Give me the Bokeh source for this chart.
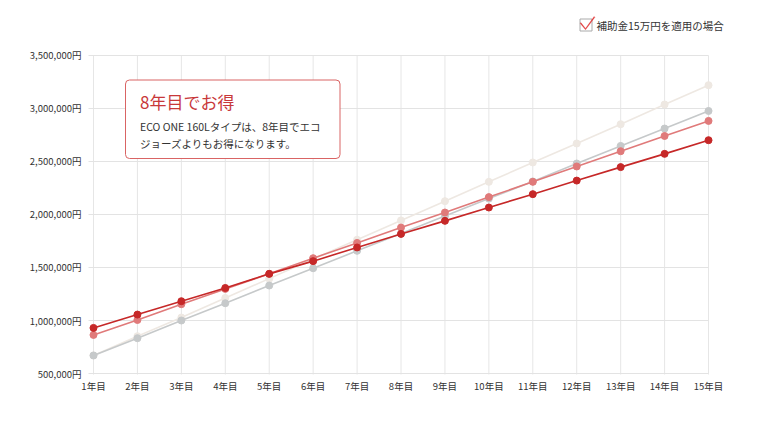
from bokeh.plotting import figure
from bokeh.models import Range1d, FixedTicker, BoxAnnotation, Label, PolyAnnotation
from bokeh.embed import file_html
from bokeh.resources import INLINE

# ---- data ----
years = list(range(1, 16))
x_labels = [f"{y}年目" for y in years]
y_ticks = [500000, 1000000, 1500000, 2000000, 2500000, 3000000, 3500000]
y_labels = ["500,000円", "1,000,000円", "1,500,000円", "2,000,000円",
            "2,500,000円", "3,000,000円", "3,500,000円"]

series_beige = [670000, 852000, 1028000, 1213000, 1395000, 1580000, 1762000, 1944000,
                2126000, 2308000, 2491000, 2670000, 2852000, 3038000, 3220000]
series_gray = [670000, 833000, 1000000, 1163000, 1330000, 1493000, 1657000, 1820000,
               1985000, 2150000, 2312000, 2481000, 2647000, 2811000, 2977000]
series_light = [864000, 1005000, 1154000, 1298000, 1440000, 1588000, 1732000, 1877000,
                2019000, 2164000, 2308000, 2453000, 2597000, 2741000, 2883000]
series_dark = [930000, 1056000, 1182000, 1307000, 1440000, 1560000, 1689000, 1817000,
               1940000, 2066000, 2192000, 2320000, 2447000, 2572000, 2701000]

legend_text = "補助金15万円を適用の場合"
box_title = "8年目でお得"
box_lines = ["ECO ONE 160Lタイプは、8年目でエコ", "ジョーズよりもお得になります。"]

FONT = "Noto Sans CJK JP"
PX_X = 43.93     # px per year
PX_Y = 9433.96   # yen per px

# helpers to place annotations (page px -> data)
def xd(px):
    return 1 + (px - 93) / PX_X

def yd(py):
    return 500000 + (373 - py) * PX_Y

# ---- figure ----
p = figure(width=752, height=420, output_backend="svg", toolbar_location=None,
           x_range=Range1d(xd(86), xd(736)), y_range=Range1d(yd(374), yd(8)),
           min_border_left=86, min_border_right=16, min_border_top=8, min_border_bottom=46)
p.outline_line_color = None
p.background_fill_color = "white"

# axes
for ax in (p.xaxis, p.yaxis):
    ax.axis_line_color = None
    ax.major_tick_line_color = None
    ax.major_tick_out = 0
    ax.major_tick_in = 0
    ax.minor_tick_line_color = None
    ax.major_label_text_font = FONT
    ax.major_label_text_font_size = "9.5px"
    ax.major_label_text_color = "#333333"

p.xaxis.ticker = FixedTicker(ticks=years)
p.xaxis.major_label_overrides = {y: l for y, l in zip(years, x_labels)}
p.xaxis.major_label_standoff = 4

p.yaxis.ticker = FixedTicker(ticks=y_ticks)
p.yaxis.major_label_overrides = {t: l for t, l in zip(y_ticks, y_labels)}
p.yaxis.major_label_standoff = 5

# grid (drawn only across the data extent, with 5px tick stubs outside)
p.xgrid.grid_line_color = None
p.ygrid.grid_line_color = None
tick_x = 5 / PX_X
tick_y = 5 * PX_Y
p.segment(x0=years, x1=years, y0=[y_ticks[0] - tick_y] * len(years),
          y1=[y_ticks[-1]] * len(years), line_color="#e6e6e6", line_width=1)
p.segment(x0=[years[0] - tick_x] * len(y_ticks), x1=[years[-1]] * len(y_ticks),
          y0=y_ticks, y1=y_ticks, line_color="#e3e3e3", line_width=1)

# series
for data, col in [(series_beige, "#eee8e2"), (series_gray, "#c6c9ca"),
                  (series_light, "#e07a7a"), (series_dark, "#c62828")]:
    p.line(years, data, line_color=col, line_width=1.6)
    p.scatter(years, data, size=7, fill_color=col, line_color=col)

# callout box
p.add_layout(BoxAnnotation(left=xd(125), right=xd(339.5), top=yd(79.5), bottom=yd(158),
                           fill_color="white", fill_alpha=1.0, line_color="#d96464",
                           line_alpha=1.0, line_width=1, border_radius=4))
p.add_layout(Label(x=xd(139.5), y=yd(101), text=box_title, text_font=FONT,
                   text_font_size="17px", text_color="#c8383a", text_baseline="middle"))
for i, line in enumerate(box_lines):
    p.add_layout(Label(x=xd(139.5), y=yd(126 + 16.5 * i), text=line, text_font=FONT,
                       text_font_size="10.5px", text_color="#333333", text_baseline="middle"))

# legend (checkbox)
p.add_layout(BoxAnnotation(left=xd(579.5), right=xd(591.5), top=yd(18.5), bottom=yd(30.5),
                           fill_alpha=0, line_color="#aaaaaa", line_alpha=1.0, line_width=1))
cx = [580.4, 585.0, 593.6, 594.4, 585.0, 579.6]
cy = [22.1, 27.9, 16.0, 16.8, 29.3, 22.8]
p.add_layout(PolyAnnotation(xs=[xd(v) for v in cx], ys=[yd(v) for v in cy],
                            fill_color="#e03838", fill_alpha=1, line_color="#e03838",
                            line_alpha=1, line_width=0.3))
p.add_layout(Label(x=xd(596), y=yd(24.5), text=legend_text, text_font=FONT,
                   text_font_size="10.5px", text_color="#333333", text_baseline="middle"))

open("out.html", "w").write(file_html(p, INLINE))
